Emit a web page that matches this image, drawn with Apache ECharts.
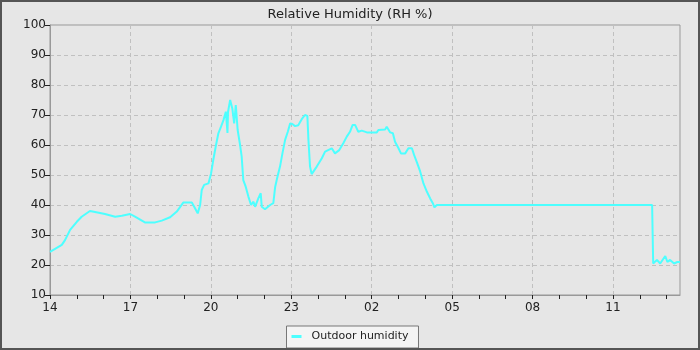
<!DOCTYPE html>
<html>
<head>
<meta charset="utf-8">
<script src="https://cdn.jsdelivr.net/npm/echarts@6/dist/echarts.min.js"></script>
<style>
  html, body { margin: 0; padding: 0; background: #e6e6e6; }
  #chart { width: 700px; height: 350px; }
</style>
</head>
<body>
<div id="chart"></div>
<script>
// hours since 14:00
const hours = [
  0, 0.44, 0.56, 0.75, 1.0, 1.18, 1.49, 1.68, 2.05, 2.43, 2.68, 2.99, 3.17, 3.54, 3.92,
  4.17, 4.48, 4.73, 4.97, 5.29, 5.41, 5.51, 5.6, 5.66, 5.75, 5.91, 6.01, 6.09, 6.18, 6.28,
  6.38, 6.47, 6.56, 6.62, 6.64, 6.72, 6.8, 6.87, 6.93, 7.0, 7.09, 7.15, 7.21, 7.3, 7.4,
  7.5, 7.59, 7.65, 7.77, 7.86, 7.9, 8.02, 8.21, 8.33, 8.4, 8.5, 8.58, 8.67, 8.77, 8.87,
  8.96, 9.04, 9.14, 9.26, 9.39, 9.51, 9.6, 9.64, 9.7, 9.76, 9.95, 10.14, 10.26, 10.51,
  10.63, 10.79, 10.94, 11.07, 11.19, 11.29, 11.38, 11.5, 11.63, 11.82, 12.19, 12.25,
  12.5, 12.56, 12.69, 12.79, 12.87, 13.0, 13.09, 13.25, 13.37, 13.5, 13.58, 13.68, 13.81,
  13.93, 14.06, 14.18, 14.28, 14.34, 14.43, 22.46, 22.5, 22.64, 22.76, 22.95, 23.03,
  23.13, 23.28, 23.4, 23.5
];
const rh = [
  24.4, 26.7, 28.3, 31.7, 34.4, 36.1, 38, 37.7, 37, 36.1, 36.4, 37, 36.1, 34.2, 34.2,
  34.8, 35.9, 37.8, 40.8, 40.8, 38.9, 37.2, 40, 45, 46.7, 47.2, 50.6, 55, 59.4, 63.9,
  66.1, 68.3, 71.1, 64, 71, 75, 72.2, 67.2, 73.3, 65, 60, 56.1, 48.3, 46.1, 42.8,
  40, 41.1, 39.4, 42.2, 43.9, 39.4, 38.6, 40, 40.6, 46.1, 50, 52.8, 57.2, 61.7, 64.4,
  67.2, 67, 66.3, 66.6, 68.6, 70, 69.7, 61.7, 52.8, 50.3, 52.8, 55.6, 57.8, 58.9,
  57.2, 58.3, 60.6, 62.8, 64.4, 66.7, 66.7, 64.4, 64.8, 64.2, 64.2, 65,
  65.2, 66.1, 64.2, 63.9, 61.1, 58.9, 57.2, 57.2, 58.9, 58.9, 56.7, 54.4, 51.1,
  47.2, 44.4, 42.2, 40.6, 39.2, 40, 40, 20.5, 21.7, 20.5, 23, 21,
  21.7, 20.5, 21, 21
];
const hourTicks = [0, 1, 2, 3, 4, 5, 6, 7, 8, 9, 10, 11, 12, 13, 14, 15, 16, 17, 18, 19, 20, 21, 22, 23];
const labelTicks = [0, 3, 6, 9, 12, 15, 18, 21];

const chart = echarts.init(document.getElementById('chart'));
const font = 'DejaVu Sans';

chart.setOption({
  animation: false,
  backgroundColor: '#e6e6e6',
  title: {
    text: 'Relative Humidity (RH %)',
    left: 'center',
    top: 3,
    textStyle: { fontFamily: font, fontSize: 13, fontWeight: 'normal', color: '#222' }
  },
  legend: {
    data: ['Outdoor humidity'],
    left: 'center',
    top: 326,
    icon: 'rect',
    itemWidth: 10,
    itemHeight: 3,
    padding: [5, 10, 6, 5],
    backgroundColor: '#f4f4f4',
    borderColor: '#777',
    borderWidth: 1,
    textStyle: { fontFamily: font, fontSize: 11, color: '#222', padding: [0, 0, 0, 5] }
  },
  grid: {
    left: 50, right: 20, top: 25, bottom: 55,
    show: true,
    borderColor: '#999',
    borderWidth: 1,
    backgroundColor: 'transparent'
  },
  xAxis: [{
    // labels + grid lines every 3 h
    type: 'value',
    min: 0,
    max: 23.5,
    interval: 3,
    axisLine: { lineStyle: { color: '#999' } },
    axisTick: { show: false },
    axisLabel: {
      customValues: labelTicks,
      fontFamily: font, fontSize: 12, color: '#222', margin: 7,
      formatter: v => String((14 + v) % 24).padStart(2, '0')
    },
    splitLine: { show: true, lineStyle: { color: '#c0c0c0', type: [4, 3] } }
  }, {
    // hourly ticks
    type: 'value',
    position: 'bottom',
    min: 0,
    max: 23.5,
    interval: 1,
    axisLine: { show: false },
    axisTick: { show: true, length: 4, customValues: hourTicks, lineStyle: { color: '#222' } },
    axisLabel: { show: false },
    splitLine: { show: false }
  }],
  yAxis: {
    type: 'value',
    min: 10,
    max: 100,
    interval: 10,
    axisLine: { show: true, lineStyle: { color: '#999' } },
    axisTick: { show: true, length: 5, lineStyle: { color: '#222' } },
    axisLabel: { fontFamily: font, fontSize: 12, color: '#222', margin: 4 },
    splitLine: { show: true, lineStyle: { color: '#c0c0c0', type: [4, 3] } }
  },
  graphic: [{
    type: 'rect',
    shape: { x: 1, y: 1, width: 698, height: 348 },
    style: { fill: 'none', stroke: '#555', lineWidth: 2 },
    silent: true,
    z: 100
  }],
  series: [{
    name: 'Outdoor humidity',
    type: 'line',
    data: hours.map((h, i) => [h, rh[i]]),
    showSymbol: false,
    itemStyle: { color: '#4dffff' },
    lineStyle: { color: '#4dffff', width: 2 }
  }]
});
</script>
</body>
</html>
